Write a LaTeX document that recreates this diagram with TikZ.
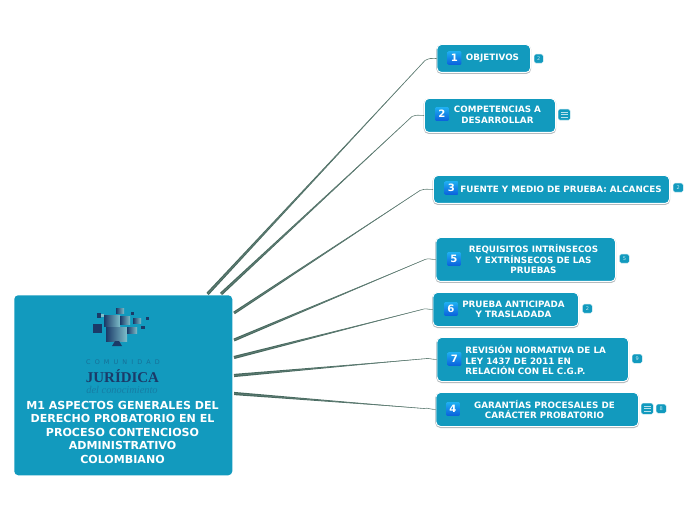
\documentclass[tikz,border=0pt]{standalone}
\usepackage{fontspec}
\setmainfont{DejaVu Sans}
\newfontfamily\serifface{Liberation Serif}
\usetikzlibrary{calc}
\definecolor{boxc}{HTML}{129ABE}
\definecolor{linec}{HTML}{47695F}
\definecolor{navy}{HTML}{1B3A68}
\definecolor{tealL}{HTML}{7FBFCB}
\definecolor{shad}{HTML}{B4BABD}
\definecolor{numtop}{HTML}{1FB0F2}
\definecolor{numbot}{HTML}{0A5FDC}
\def\u{0.75pt}
\tikzset{
  x=0.75pt,y=-0.75pt,
  mainbox/.style={fill=boxc,draw=none,rounded corners=3pt,anchor=north west,inner sep=0pt},
  topic/.style={fill=boxc,draw=white,line width=0.7pt,rounded corners=3.4pt,anchor=north west,inner sep=0pt,
    preaction={fill=shad,draw=shad,line width=1.1pt,transform canvas={yshift=-0.6pt}}},
  ttl/.style={text=white,font=\bfseries\fontsize{6.58}{7.9}\selectfont,align=center,inner sep=0pt},
  ttlL/.style={ttl,align=left,anchor=west},
  hd/.style={text=white,font=\bfseries\fontsize{8.3}{10.15}\selectfont,align=center,inner sep=0pt},
  num/.style={anchor=center,minimum size=10.2pt,inner sep=0pt,rounded corners=0.8pt,top color=numtop,bottom color=numbot,
    text=white,font=\bfseries\fontsize{7.6}{8}\selectfont},
  tag/.style={anchor=north west,fill=boxc,draw=boxc!25!white,line width=0.25pt,rounded corners=1.2pt,inner sep=0pt,text=white!75!boxc,font=\fontsize{3.8}{4}\selectfont},
  branch/.style={draw=linec!85!white,line width=0.45pt,line join=round},
  taper/.style={fill=linec,draw=none},
  sq/.style={fill=navy,draw=none},
  lt/.style={fill=tealL,draw=none},
  gr/.style={left color=navy,right color=tealL,draw=none},
}
\newcommand{\tpc}[6]{\node[topic,minimum width=(#4-#2)*\u,minimum height=(#5-#3)*\u] (#1) at (#2,#3) {};}
\newcommand{\numi}[4]{\node[num] (#1) at (#2,#3) {#4};}
\newcommand{\tagi}[6]{\node[tag,minimum width=(#4-#2)*\u,minimum height=(#5-#3)*\u] (#1) at (#2,#3) {#6};}
\newcommand{\lst}[1]{\draw[white!70!boxc,line width=0.3pt]
  ($(#1.center)+(-3.5,-2.5)$) -- ++(7,0) ($(#1.center)+(-3.5,0)$) -- ++(7,0) ($(#1.center)+(-3.5,2.5)$) -- ++(7,0);}
% #1 start, #2 kink, #3 target, #4 #5 half width of the tapered root
\newcommand{\brn}[5]{%
  \fill[taper] ($(#1)+(#4,#5)$) -- (#2) -- ($(#1)-(#4,#5)$) -- cycle;
  \draw[branch] (#1) -- (#2) .. controls ($(#2)!0.5!(#3.west)+(-1,-1.5)$) and ($(#3.west)+(-6,0)$) .. (#3.west);}
\begin{document}
\begin{tikzpicture}
\useasboundingbox (0,0) rectangle (696,520);
\fill[white] (0,0) rectangle (696,520);

\node[mainbox,minimum width=218*\u,minimum height=180*\u] (main) at (14,295) {};

\coordinate (s1) at (207.5,294);
\coordinate (s2) at (221,294);
\coordinate (s3) at (234,313);
\coordinate (s4) at (234,340);
\coordinate (s5) at (234,357.5);
\coordinate (s6) at (234,375.5);
\coordinate (s7) at (234,393.5);
\coordinate (k1) at (425,60.5);
\coordinate (k2) at (412,116.5);
\coordinate (k3) at (420,190.5);
\coordinate (k4) at (425,259.5);
\coordinate (k5) at (422,309.5);
\coordinate (k6) at (424,358.8);
\coordinate (k7) at (424,408.5);

\tpc{b1}{436.5}{44}{530}{72}{}
\tpc{b2}{424}{98}{555}{132}{}
\tpc{b3}{433}{175}{669}{203}{}
\tpc{b5}{435.5}{237}{615}{281}{}
\tpc{b6}{432.5}{292}{578}{326}{}
\tpc{b7}{436.5}{337}{628}{381}{}
\tpc{b4}{435.5}{392}{638}{426}{}

\brn{s1}{k1}{b1}{1.1}{1.1}
\brn{s2}{k2}{b2}{1.1}{1.1}
\brn{s3}{k3}{b3}{0.8}{1.2}
\brn{s4}{k4}{b5}{0.5}{1.4}
\brn{s5}{k5}{b6}{0.4}{1.5}
\brn{s6}{k6}{b7}{0.1}{1.6}
\brn{s7}{k7}{b4}{0}{1.6}

\node[ttl] (t1) at (492.5,58.3) {OBJETIVOS};
\node[ttl] (t2) at (497.5,115) {COMPETENCIAS A\\DESARROLLAR};
\node[ttl] (t3) at (561,189.3) {FUENTE Y MEDIO DE PRUEBA: ALCANCES};
\node[ttl] (t5) at (533.5,259) {REQUISITOS INTRÍNSECOS\\Y EXTRÍNSECOS DE LAS\\PRUEBAS};
\node[ttl] (t6) at (513.5,309.5) {PRUEBA ANTICIPADA\\ Y TRASLADADA};
\node[ttlL] (t7) at (465,360) {REVISIÓN NORMATIVA DE LA\\LEY 1437 DE 2011 EN\\RELACIÓN CON EL C.G.P.};
\node[ttl] (t4) at (544.5,409.5) {GARANTÍAS PROCESALES DE\\CARÁCTER PROBATORIO};

\numi{n1}{454.5}{58}{1}
\numi{n2}{442}{114}{2}
\numi{n3}{451.5}{188}{3}
\numi{n5}{454}{259}{5}
\numi{n6}{451}{309}{6}
\numi{n7}{454.5}{359}{7}
\numi{n4}{453}{409}{4}

\tagi{g1}{534}{54}{543}{63}{2}
\tagi{g2}{558}{109}{570}{120}{}
\lst{g2}
\tagi{g3}{673}{183}{683}{192}{2}
\tagi{g5}{619.5}{254}{629}{263}{5}
\tagi{g6}{582.5}{304}{592}{313}{2}
\tagi{g7}{632}{354}{642}{363}{9}
\tagi{g4}{641}{403}{653}{414}{}
\lst{g4}
\tagi{g8}{656}{404}{666}{413}{8}

% logo
\fill[sq] (97,313) rectangle (101,318);
\fill[lt] (101,314.5) rectangle (104,317.5);
\fill[gr] (104,316) rectangle (120,326);
\fill[gr] (116,309) rectangle (124,314);
\fill[gr] (120,317) rectangle (130,324);
\fill[sq] (131,312) rectangle (134,315);
\fill[gr] (133,319) rectangle (141,323);
\fill[sq] (146,317) rectangle (149,320);
\fill[sq] (93,324) rectangle (102,333);
\fill[gr] (106,327) rectangle (127,341);
\fill[gr] (127,327) rectangle (137,333);
\fill[sq] (141,326) rectangle (145,329);
\fill[sq] (115,341) -- (119,341) -- (122,346) -- (112,346) -- cycle;
\node[inner sep=0pt,text=navy!45!boxc,font=\fontsize{4.8}{5}\selectfont] (lg1) at (123,362.5) {C\hspace{3.1pt}O\hspace{3.1pt}M\hspace{3.1pt}U\hspace{3.1pt}N\hspace{3.1pt}I\hspace{3.1pt}D\hspace{3.1pt}A\hspace{3.1pt}D};
\node[inner sep=0pt,text=navy,font=\serifface\bfseries\fontsize{11.2}{12}\selectfont] (lg2) at (122.5,376.5) {JURÍDICA};
\node[inner sep=0pt,text=navy!30!boxc,font=\serifface\itshape\fontsize{7.8}{8}\selectfont] (lg3) at (122,389.5) {del conocimiento};

\node[hd] (mt) at (122.5,432.3) {M1 ASPECTOS GENERALES DEL\\DERECHO PROBATORIO EN EL\\PROCESO CONTENCIOSO\\ADMINISTRATIVO\\COLOMBIANO};
\end{tikzpicture}
\end{document}
